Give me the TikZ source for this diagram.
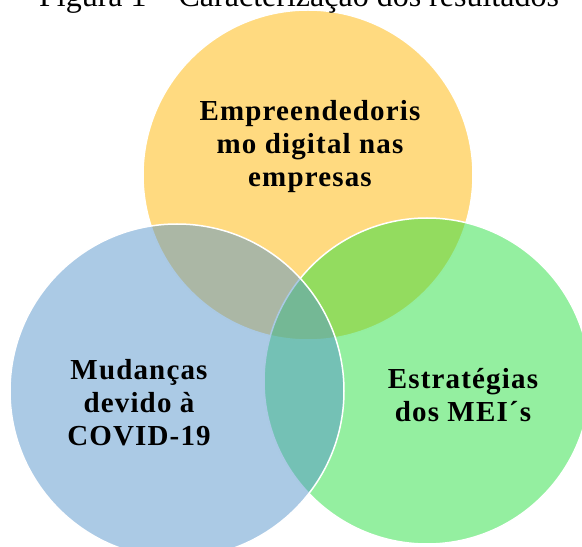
\documentclass[tikz,border=0pt]{standalone}
\usepackage{fontspec}
\setmainfont{Liberation Serif}
\usepackage{tikz}
\usetikzlibrary{positioning}
\definecolor{vennyellow}{HTML}{FFB501}
\definecolor{venngreen}{HTML}{29DF41}
\definecolor{vennblue}{HTML}{5795CB}
\definecolor{vennblack}{HTML}{000000}

\begin{document}
\begin{tikzpicture}[x=1pt, y=1pt,
      venn/.style={circle, draw=white, line width=1.5pt, fill opacity=0.5, draw opacity=1, inner sep=0pt, minimum size=#1},
      lbl/.style={align=center, inner sep=0pt, text=vennblack, font=\fontsize{29}{33}\selectfont\bfseries\addfontfeature{LetterSpace=4}},
      titulo/.style={anchor=base, inner sep=0pt, font=\fontsize{32}{36}\selectfont}
    ]
      \useasboundingbox (0,0) rectangle (582,547);
      \clip (0,0) rectangle (582,547);

      % circulos (amarelo, verde, azul)
      \node[venn=330pt, fill=vennyellow] (emp) at (308,372) {};
      \node[venn=326pt, fill=venngreen] (est) at (427,166) {};
      \node[venn=334pt, fill=vennblue] (mud) at (177,156) {};

      % textos
      \node[titulo] (tit) at (299,540) {Figura 1 – Caracterização dos resultados};
      \node[lbl] (empTxt) at (310,400) {Empreendedoris\\mo digital nas\\empresas};
      \node[lbl] (mudTxt) at (139,144) {Mudanças\\devido à\\COVID-19};
      \node[lbl] (estTxt) at (463,152) {Estratégias\\dos MEI´s};
    \end{tikzpicture}
\end{document}
